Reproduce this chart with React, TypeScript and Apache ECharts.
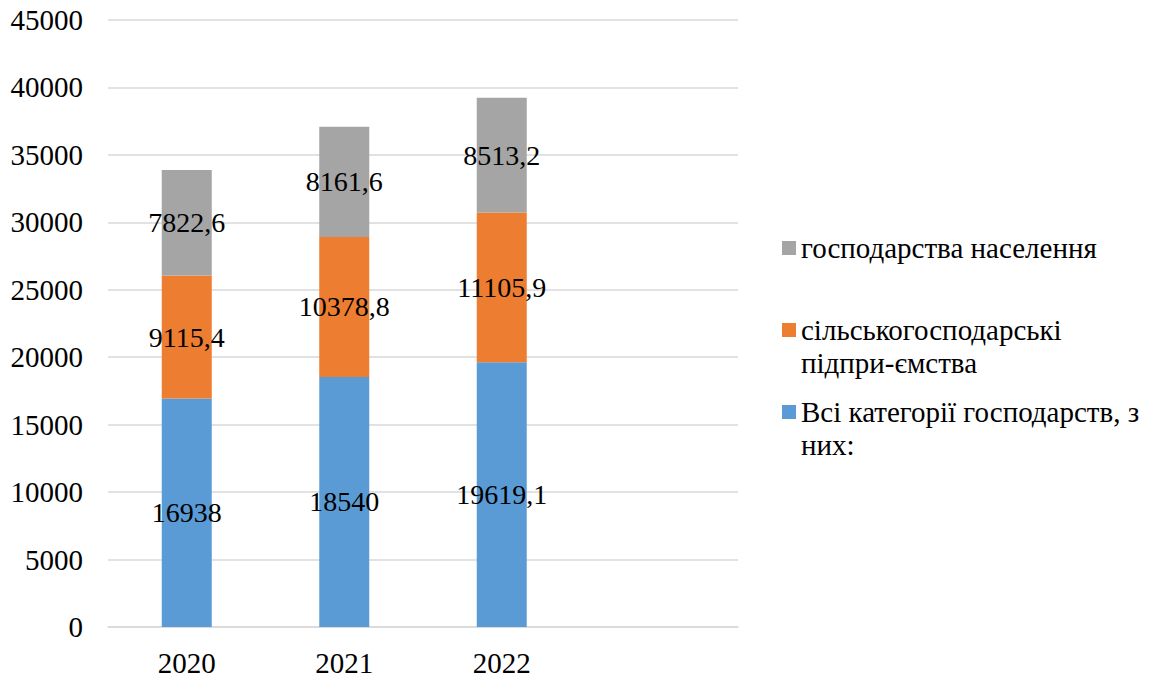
import React, { useEffect, useRef } from "react";
import * as echarts from "echarts";

const years = ["2020", "2021", "2022", ""];
const allCategories = [16938, 18540, 19619.1];
const agriEnterprises = [9115.4, 10378.8, 11105.9];
const households = [7822.6, 8161.6, 8513.2];
const yTicks = { min: 0, max: 45000, interval: 5000 };

const nameAll = "Всі категорії господарств, з них:";
const nameAgri = "сільськогосподарські підпри-ємства";
const nameHouse = "господарства населення";

const FONT = "Liberation Serif";
const fmt = (v: number) => String(v).replace(".", ",");

// square at top of a taller box so that the marker lines up with the first text line
const tallIcon = "path://M0,0L14,0L14,14L0,14Z M0,46.99L0.001,46.99L0.001,47Z";

export default function App() {
  const ref = useRef<HTMLDivElement>(null);
  useEffect(() => {
    if (!ref.current) return;
    const chart = echarts.init(ref.current, null, { renderer: "svg" });
    const label = {
      show: true,
      position: "inside" as const,
      color: "#000",
      fontSize: 28,
      fontFamily: FONT,
      textBorderWidth: 0,
      formatter: (p: any) => fmt(p.value),
    };
    const legendText = {
      fontSize: 29,
      fontFamily: FONT,
      color: "#000",
      lineHeight: 33,
    };
    chart.setOption({
      animation: false,
      backgroundColor: "#fff",
      textStyle: { fontFamily: FONT },
      grid: { left: 108, right: 421, top: 20, bottom: 52, containLabel: false },
      legend: [
        { data: [nameHouse], left: 782, top: 231.5, padding: 0, itemWidth: 14, itemHeight: 14, icon: "rect", textStyle: legendText },
        {
          data: [nameAgri], left: 782, top: 313.5, padding: 0, itemWidth: 14, itemHeight: 47, icon: tallIcon,
          formatter: () => "сільськогосподарські\nпідпри-ємства", textStyle: legendText,
        },
        {
          data: [nameAll], left: 782, top: 395.5, padding: 0, itemWidth: 14, itemHeight: 47, icon: tallIcon,
          formatter: () => "Всі категорії господарств, з\nних:", textStyle: legendText,
        },
      ],
      xAxis: {
        type: "category",
        data: years,
        axisLine: { show: true, lineStyle: { color: "#D9D9D9", width: 1.5 } },
        axisTick: { show: false },
        axisLabel: { fontSize: 29, fontFamily: FONT, color: "#000", margin: 21 },
      },
      yAxis: {
        type: "value",
        min: yTicks.min,
        max: yTicks.max,
        interval: yTicks.interval,
        axisLine: { show: false },
        axisTick: { show: false },
        splitLine: { lineStyle: { color: "#D9D9D9", width: 1.5 } },
        axisLabel: { fontSize: 29, fontFamily: FONT, color: "#000", margin: 25, formatter: (v: number) => String(v) },
      },
      series: [
        { name: nameAll, type: "bar", stack: "total", barWidth: 50, data: allCategories, itemStyle: { color: "#5B9BD5" }, label },
        { name: nameAgri, type: "bar", stack: "total", barWidth: 50, data: agriEnterprises, itemStyle: { color: "#ED7D31" }, label },
        { name: nameHouse, type: "bar", stack: "total", barWidth: 50, data: households, itemStyle: { color: "#A5A5A5" }, label },
      ],
    });
    return () => chart.dispose();
  }, []);
  return <div ref={ref} style={{ position: "fixed", left: 0, top: 0, width: 1159, height: 679, background: "#fff" }} />;
}
